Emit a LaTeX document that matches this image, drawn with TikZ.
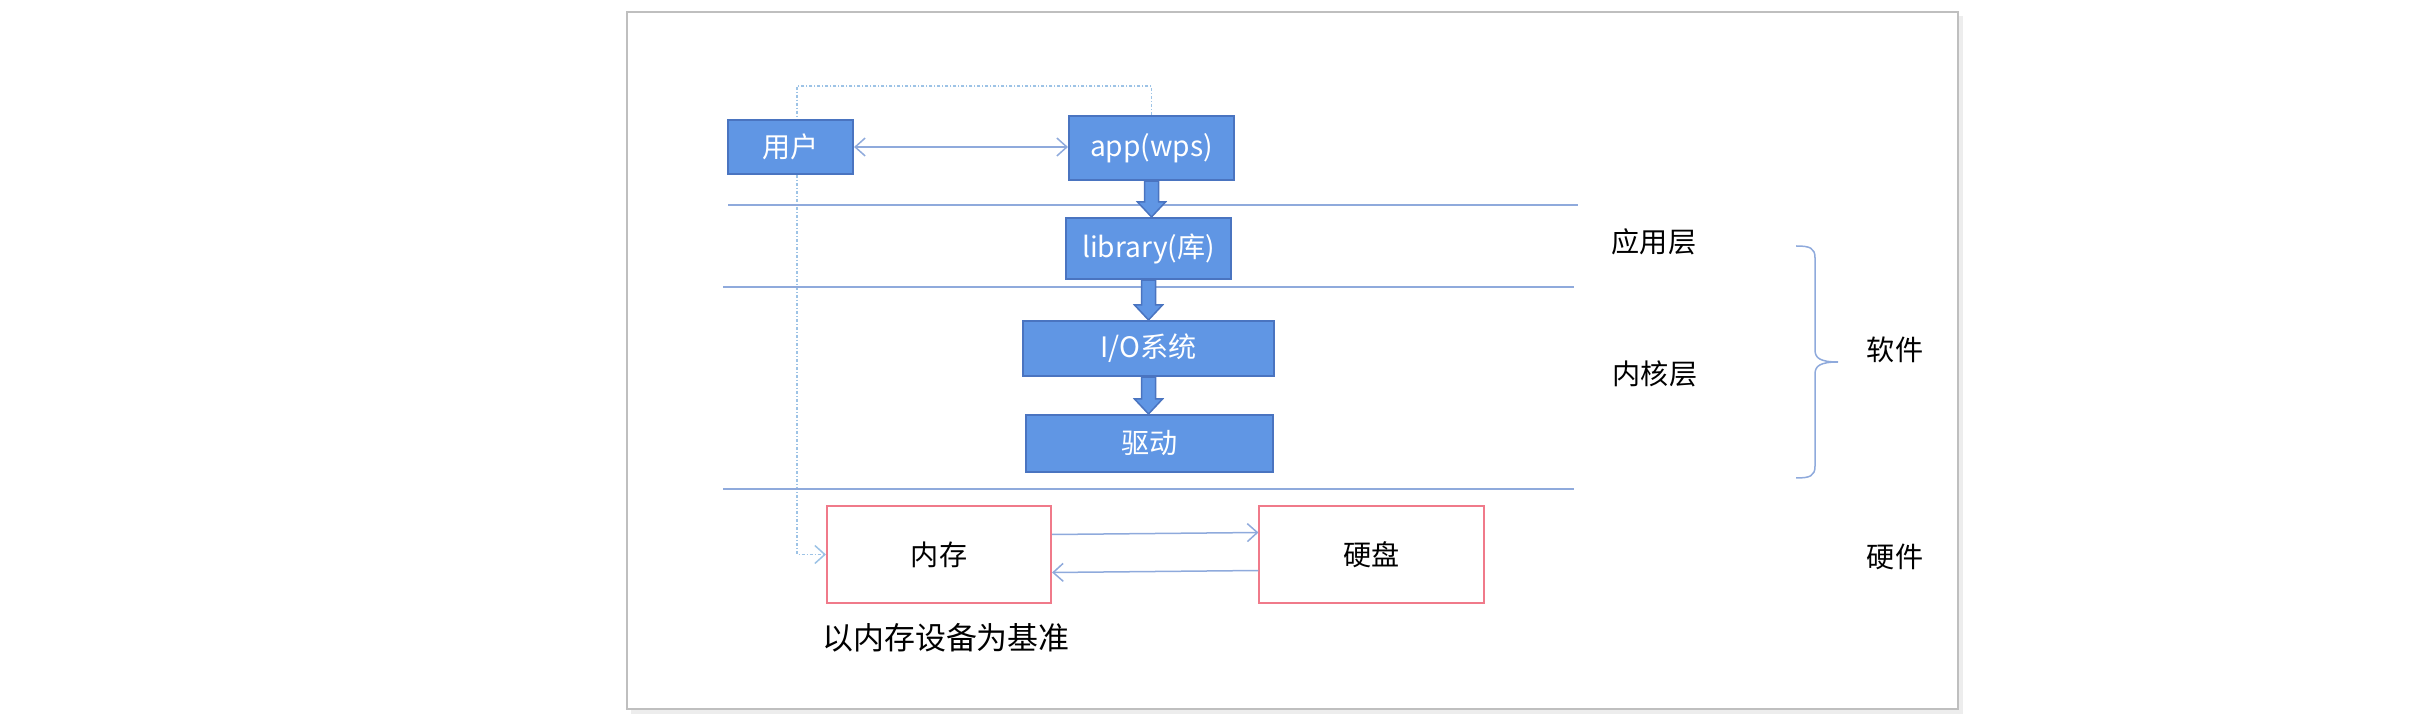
\documentclass[tikz,border=0pt]{standalone}
\usepackage{fontspec}
\usepackage{tikz}
\usetikzlibrary{arrows.meta,calc,backgrounds}
\newfontfamily\cjkfont{Noto Sans CJK SC}
\definecolor{boxblue}{HTML}{6096E4}
\definecolor{boxedge}{HTML}{4A74C0}
\definecolor{wireblue}{HTML}{8FAADC}
\definecolor{dotblue}{HTML}{9DC3E6}
\definecolor{memred}{HTML}{F07A8A}
\definecolor{framegray}{HTML}{BFBFBF}
\newcommand{\blockarrow}[2]{%
  \draw[fatarrow] ($(#1.south)+(-7,0)$) -- ($(#1.south |- #2.north)+(-7,-15)$)
    -- ($(#1.south |- #2.north)+(-14,-15)$) -- (#1.south |- #2.north)
    -- ($(#1.south |- #2.north)+(14,-15)$) -- ($(#1.south |- #2.north)+(7,-15)$)
    -- ($(#1.south)+(7,0)$) -- cycle;}

\begin{document}
\begin{tikzpicture}[x=0.01cm,y=-0.01cm,
  layerbox/.style={draw=boxedge,fill=boxblue,line width=0.02cm,text=white,
    font=\cjkfont\fontsize{8}{10}\selectfont,inner sep=0pt},
  device/.style={draw=memred,fill=white,line width=0.02cm,text=black,
    font=\cjkfont\fontsize{8}{10}\selectfont,inner sep=0pt,
    minimum width=2.24cm,minimum height=0.97cm},
  tag/.style={font=\cjkfont\fontsize{8}{10}\selectfont,text=black},
  wire/.style={draw=wireblue,line width=0.015cm},
  barb/.tip={Straight Barb[length=0.1cm,width=0.18cm]},
  link/.style={wireblue,line width=0.015cm,-barb},
  dotlink/.style={dotblue,line width=0.015cm,
    dash pattern=on 0.03cm off 0.02cm on 0.01cm off 0.02cm,-barb},
  fatarrow/.style={draw=boxedge,fill=boxblue,line width=0.015cm,line join=miter}
]
  \useasboundingbox (0,0) rectangle (2419,722);
  \draw[black!7,line width=0.04cm] (631,712) -- (1961,712) -- (1961,16);
  \draw[framegray,line width=0.025cm] (627,12) rectangle (1958,709);

  % layer separators
  \draw[wire] (728,205) -- (1578,205);
  \draw[wire] (723,287) -- (1574,287);
  \draw[wire] (723,489) -- (1574,489);

  \node[layerbox,minimum width=1.25cm,minimum height=0.54cm] (user) at (790.5,147) {用户};
  \node[layerbox,minimum width=1.65cm,minimum height=0.64cm] (app) at (1151.5,148) {app(wps)};
  \node[layerbox,minimum width=1.65cm,minimum height=0.61cm] (lib) at (1148.5,248.5) {library(库)};
  \node[layerbox,minimum width=2.51cm,minimum height=0.55cm] (io) at (1148.5,348.5) {I/O系统};
  \node[layerbox,minimum width=2.47cm,minimum height=0.57cm] (drv) at (1149.5,443.5) {驱动};
  \node[device] (mem) at (939,554.5) {内存};
  \node[device] (disk) at (1371.5,554.5) {硬盘};

  \blockarrow{app}{lib}
  \blockarrow{lib}{io}
  \blockarrow{io}{drv}

  \draw[link,barb-barb] (user) -- (user -| app.west);
  \draw[link] ($(mem.east)+(0,-20)$) -- ($(disk.west)+(0,-22)$);
  \draw[link] ($(disk.west)+(0,16)$) -- ($(mem.east)+(0,18)$);

  \coordinate (bend) at (797,86);
  \begin{scope}[on background layer]
    \draw[dotlink] (app.north) |- (bend) |- (mem.west);
  \end{scope}

  \node[tag] (applayer) at (1654,242) {应用层};
  \node[tag] (kernlayer) at (1655,374) {内核层};
  \node[tag] (soft) at (1895,350) {软件};
  \node[tag] (hard) at (1895,557) {硬件};
  \node[tag,font=\cjkfont\fontsize{8.8}{11}\selectfont] (basis) at (946,638) {以内存设备为基准};

  % brace over the software layers
  \draw[wire] (1796,246) .. controls (1810,246) and (1815,248) .. (1815,258)
    -- (1815,350) .. controls (1815,358) and (1820,362) .. (1838,362)
    .. controls (1820,362) and (1815,366) .. (1815,374)
    -- (1815,466) .. controls (1815,476) and (1810,478) .. (1796,478);
\end{tikzpicture}
\end{document}
